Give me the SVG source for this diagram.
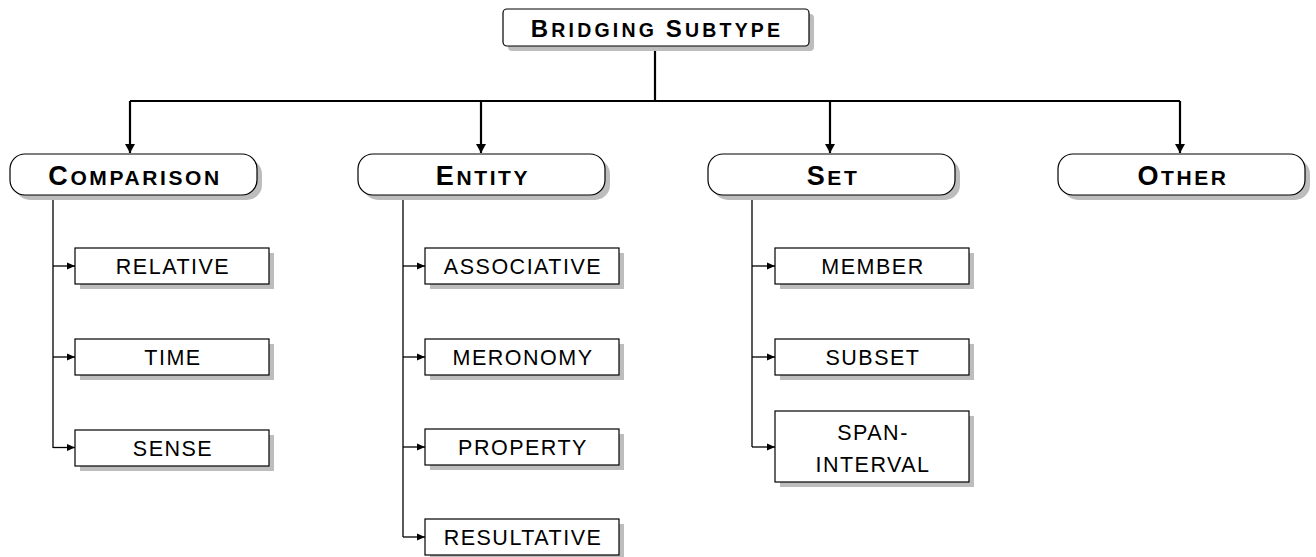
<svg xmlns="http://www.w3.org/2000/svg" width="1316" height="557" viewBox="0 0 1316 557">
<style>
.sh{fill:#bdbdbd;stroke:none}
.bx{fill:#fff;stroke:#000;stroke-width:1.2}
.main{fill:none;stroke:#000;stroke-width:2.2}
.sub{fill:none;stroke:#000;stroke-width:1.3}
.t{font-family:"Liberation Sans",Arial,sans-serif;font-size:21.5px;letter-spacing:1.5px;text-anchor:middle;fill:#000}
.c{font-family:"Liberation Sans",Arial,sans-serif;font-weight:bold;font-size:21px;letter-spacing:2.6px;text-anchor:middle;fill:#000}
.r{font-family:"Liberation Sans",Arial,sans-serif;font-weight:bold;font-size:19.5px;letter-spacing:3.2px;text-anchor:middle;fill:#000}
.big{font-size:27px}
.rbig{font-size:24px}
</style>
<defs>
<marker id="ah" markerWidth="10" markerHeight="10" refX="9" refY="5" orient="auto" markerUnits="userSpaceOnUse">
<path d="M0,0 L9,5 L0,10 z" fill="#000"/>
</marker>
<marker id="as" markerWidth="9" markerHeight="9" refX="8" refY="4.5" orient="auto" markerUnits="userSpaceOnUse">
<path d="M0,1 L8,4.5 L0,8 z" fill="#000"/>
</marker>
</defs>

<g id="connectors">
<path class="main" d="M655,46 V101"/>
<path class="main" d="M130,101 H1180"/>
<path class="main" d="M130,101 V153" marker-end="url(#ah)"/>
<path class="main" d="M481,101 V153" marker-end="url(#ah)"/>
<path class="main" d="M830,101 V153" marker-end="url(#ah)"/>
<path class="main" d="M1180,101 V153" marker-end="url(#ah)"/>
<path class="sub" d="M53,195 V448"/>
<path class="sub" d="M53,266 H75" marker-end="url(#as)"/>
<path class="sub" d="M53,357 H75" marker-end="url(#as)"/>
<path class="sub" d="M53,447.5 H75" marker-end="url(#as)"/>
<path class="sub" d="M403,195 V537"/>
<path class="sub" d="M403,266 H425" marker-end="url(#as)"/>
<path class="sub" d="M403,357 H425" marker-end="url(#as)"/>
<path class="sub" d="M403,447 H425" marker-end="url(#as)"/>
<path class="sub" d="M403,537 H425" marker-end="url(#as)"/>
<path class="sub" d="M752,195 V447"/>
<path class="sub" d="M752,266 H775" marker-end="url(#as)"/>
<path class="sub" d="M752,357 H775" marker-end="url(#as)"/>
<path class="sub" d="M752,447 H775" marker-end="url(#as)"/>
</g>

<g id="root">
<rect class="sh" x="508" y="14" width="306" height="37" rx="4"/>
<rect class="bx" x="503" y="9" width="306" height="37" rx="4"/>
<text class="r" x="657" y="37"><tspan class="rbig">B</tspan>RIDGING <tspan class="rbig">S</tspan>UBTYPE</text>
</g>

<g id="comparison">
<rect class="sh" x="15" y="159" width="247" height="41" rx="15"/>
<rect class="bx" x="10" y="154" width="247" height="41" rx="15"/>
<text class="c" x="135" y="185"><tspan class="big">C</tspan>OMPARISON</text>
</g>
<g id="entity">
<rect class="sh" x="363" y="159" width="247" height="41" rx="15"/>
<rect class="bx" x="358" y="154" width="247" height="41" rx="15"/>
<text class="c" x="483" y="185"><tspan class="big">E</tspan>NTITY</text>
</g>
<g id="set">
<rect class="sh" x="713" y="159" width="247" height="41" rx="15"/>
<rect class="bx" x="708" y="154" width="247" height="41" rx="15"/>
<text class="c" x="833" y="185"><tspan class="big">S</tspan>ET</text>
</g>
<g id="other">
<rect class="sh" x="1063" y="159" width="247" height="41" rx="15"/>
<rect class="bx" x="1058" y="154" width="247" height="41" rx="15"/>
<text class="c" x="1183" y="185"><tspan class="big">O</tspan>THER</text>
</g>

<g id="relative">
<rect class="sh" x="80" y="253" width="194" height="36"/>
<rect class="bx" x="75" y="248" width="194" height="36"/>
<text class="t" x="173" y="274">RELATIVE</text>
</g>
<g id="time">
<rect class="sh" x="80" y="344" width="194" height="36"/>
<rect class="bx" x="75" y="339" width="194" height="36"/>
<text class="t" x="173" y="365">TIME</text>
</g>
<g id="sense">
<rect class="sh" x="80" y="435" width="194" height="36"/>
<rect class="bx" x="75" y="430" width="194" height="36"/>
<text class="t" x="173" y="456">SENSE</text>
</g>

<g id="associative">
<rect class="sh" x="430" y="253" width="194" height="36"/>
<rect class="bx" x="425" y="248" width="194" height="36"/>
<text class="t" x="523" y="274">ASSOCIATIVE</text>
</g>
<g id="meronomy">
<rect class="sh" x="430" y="344" width="194" height="36"/>
<rect class="bx" x="425" y="339" width="194" height="36"/>
<text class="t" x="523" y="365">MERONOMY</text>
</g>
<g id="property">
<rect class="sh" x="430" y="434" width="194" height="36"/>
<rect class="bx" x="425" y="429" width="194" height="36"/>
<text class="t" x="523" y="455">PROPERTY</text>
</g>
<g id="resultative">
<rect class="sh" x="430" y="524" width="194" height="36"/>
<rect class="bx" x="425" y="519" width="194" height="36"/>
<text class="t" x="523" y="545">RESULTATIVE</text>
</g>

<g id="member">
<rect class="sh" x="780" y="253" width="194" height="36"/>
<rect class="bx" x="775" y="248" width="194" height="36"/>
<text class="t" x="873" y="274">MEMBER</text>
</g>
<g id="subset">
<rect class="sh" x="780" y="344" width="194" height="36"/>
<rect class="bx" x="775" y="339" width="194" height="36"/>
<text class="t" x="873" y="365">SUBSET</text>
</g>
<g id="span-interval">
<rect class="sh" x="780" y="416" width="194" height="71"/>
<rect class="bx" x="775" y="411" width="194" height="71"/>
<text class="t" x="873" y="440">SPAN-</text>
<text class="t" x="873" y="472">INTERVAL</text>
</g>
</svg>
